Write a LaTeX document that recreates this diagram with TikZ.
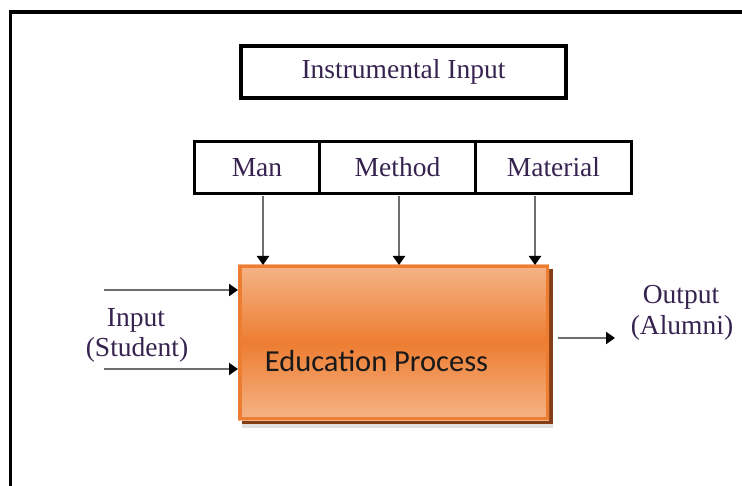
\documentclass[tikz,border=0pt]{standalone}
\usepackage{fontspec}
\setmainfont{Liberation Serif}
\newfontfamily\calfont{Carlito}
\usetikzlibrary{arrows.meta}
\definecolor{txt}{RGB}{55,35,80}
\definecolor{orangeedge}{RGB}{237,125,49}
\definecolor{orangelight}{RGB}{245,180,135}
\definecolor{shadowbrown}{RGB}{132,60,20}
\definecolor{linegray}{RGB}{110,110,110}
\tikzset{
  box/.style={draw=black, line width=3.5pt, inner sep=0pt, text=txt,
    font=\fontsize{27.5}{30}\selectfont},
  lbl/.style={text=txt, inner sep=0pt, font=\fontsize{27.5}{30}\selectfont},
  arr/.style={draw=linegray, line width=2.5pt,
    -{Triangle[length=9pt,width=12pt,color=black]}},
}
\begin{document}
\begin{tikzpicture}[x=1pt,y=-1pt]
\useasboundingbox (0,0) rectangle (742,486);
\clip (0,0) rectangle (742,486);
% outer frame
\draw[line width=3.5pt] (10.5,500) -- (10.5,12) -- (760,12);
% instrumental input
\node[box, minimum width=325pt, minimum height=52pt] (instr) at (403.5,72) {Instrumental Input};
% man / method / material
\node[box, minimum width=125pt, minimum height=52pt] (man) at (257,167.3) {Man};
\node[box, minimum width=156pt, minimum height=52pt] (method) at (397.5,167.3) {Method};
\node[box, minimum width=156pt, minimum height=52pt] (material) at (553.5,167.3) {Material};
% education process
\fill[black!12] (242,424) rectangle (553,428);
\fill[shadowbrown] (242,269) rectangle (553,424);
\shade[top color=orangelight, bottom color=orangelight, middle color=orangeedge] (238,265) rectangle (549,420);
\node[draw=orangeedge, line width=3.5pt, minimum width=307.5pt, minimum height=151.5pt, inner sep=0pt] (edu) at (393.5,342.5) {};
\node[inner sep=0pt, font=\calfont\fontsize{30.5}{33}\selectfont, text=black!90] (edutext) at (376.5,361) {Education Process};
% vertical arrows
\coordinate (m1) at (263,196);
\coordinate (m2) at (399,196);
\coordinate (m3) at (535,196);
\draw[arr] (m1) -- (m1 |- edu.north);
\draw[arr] (m2) -- (m2 |- edu.north);
\draw[arr] (m3) -- (m3 |- edu.north);
% inputs
\coordinate (in1) at (104,290);
\coordinate (in2) at (104,369);
\draw[arr] (in1) -- (in1 -| edu.west);
\draw[arr] (in2) -- (in2 -| edu.west);
\node[lbl] (inlbl) at (136,320) {Input};
\node[lbl] (inlbl2) at (137,350) {(Student)};
% output
\coordinate (outstart) at (558,338);
\coordinate (outend) at (615,338);
\draw[arr] (outstart) -- (outend);
\node[lbl] (outlbl) at (681,297) {Output};
\node[lbl] (outlbl2) at (682,328) {(Alumni)};
\end{tikzpicture}
\end{document}
